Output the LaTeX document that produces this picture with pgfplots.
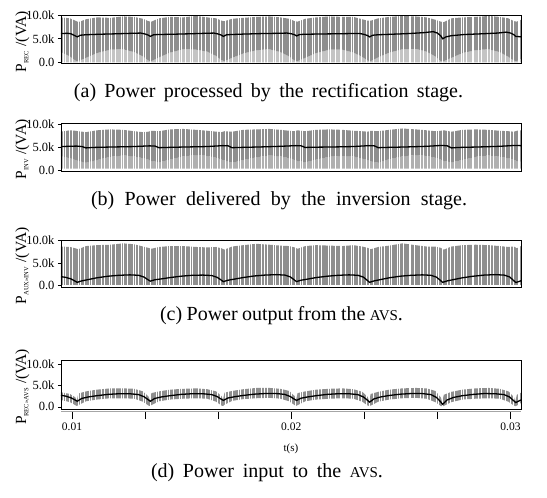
\documentclass[border=0pt]{standalone}
\usepackage{pgfplots}
\usepackage{pgfplotstable}
\pgfplotsset{compat=1.18}
\usepackage{fontspec}
\setmainfont{Liberation Serif}
\definecolor{band}{RGB}{142,142,142}
\definecolor{sparseA}{RGB}{196,196,196}
\definecolor{sparseB}{RGB}{176,176,176}
\newcommand{\sub}[1]{\textsubscript{\fontsize{6.5}{6.5}\selectfont #1}}
\newcommand{\avs}{{\fontsize{15}{15}\selectfont AVS}}
\pgfplotstableread{
x h
9.58 11000
9.67 11000
9.88 11000
10.01 11000
10.28 11000
10.39 11000
10.57 11000
10.81 11000
10.89 11000
11.05 11000
11.35 11000
11.47 11000
11.69 11000
11.78 11000
11.97 11000
12.23 11000
12.33 11000
12.50 11000
12.78 11000
12.87 11000
13.01 11000
13.24 11000
13.36 11000
13.56 11000
13.85 11000
13.93 11000
14.08 11000
14.33 11000
14.44 11000
14.63 11000
14.90 11000
15.00 11000
15.16 11000
15.38 11000
15.47 11000
15.77 11000
15.90 11000
16.08 11000
16.32 11000
16.40 11000
16.61 11000
16.75 11000
17.01 11000
17.12 11000
17.31 11000
17.59 11000
17.69 11000
17.84 11000
18.07 11000
18.16 11000
18.36 11000
18.63 11000
18.75 11000
18.92 11000
19.17 11000
19.25 11000
19.47 11000
19.60 11000
19.89 11000
19.99 11000
20.17 11000
20.41 11000
20.52 11000
20.68 11000
20.94 11000
21.03 11000
21.24 11000
21.38 11000
21.68 11000
21.80 11000
21.99 11000
22.22 11000
22.30 11000
22.47 11000
22.74 11000
22.84 11000
23.04 11000
23.19 11000
23.44 11000
23.55 11000
23.73 11000
24.01 11000
24.10 11000
24.23 11000
24.45 11000
24.57 11000
24.83 11000
24.93 11000
25.12 11000
25.36 11000
25.44 11000
25.60 11000
25.89 11000
26.00 11000
26.21 11000
26.35 11000
26.62 11000
26.71 11000
26.89 11000
27.12 11000
27.24 11000
27.44 11000
27.74 11000
27.84 11000
27.99 11000
28.24 11000
28.32 11000
28.54 11000
28.67 11000
28.95 11000
29.06 11000
29.23 11000
29.47 11000
29.56 11000
29.75 11000
30.01 11000
30.13 11000
30.34 11000
30.42 11000
}\stripes
\pgfplotsset{
 panel/.style={scale only axis, width=460pt, xmin=9.5, xmax=30.48, xtick=\empty,
  ytick={0,5000,10000}, yticklabels={0.0,5.0k,10.0k}, scaled y ticks=false, ytick pos=left, tick align=outside,
  major tick length=3pt, tick style={black, line width=0.6pt},
  axis line style={black, line width=0.8pt},
  tick label style={font=\fontsize{12.5}{13}\selectfont},
  every axis y label/.style={at={(axis description cs:-0.0837,0.45)}, rotate=90, anchor=center, font=\fontsize{15.5}{16}\selectfont},
  axis on top, anchor=north west},
 mean/.style={black, line width=1.3pt, no marks},
 poly/.style={fill=#1, draw=none, no marks, forget plot},
 stripe/.style={ycomb, white, line width=0.45pt, no marks, forget plot}}
\begin{document}
\begin{tikzpicture}
\path[use as bounding box] (0pt,0pt) rectangle (547pt,-498pt);
% ---------------- (a)
\begin{axis}[panel, at={(61pt,-15pt)}, height=48.5pt, ymin=-200, ymax=10000, ylabel={P\sub{REC} /(VA)}]
\addplot[poly=sparseA] coordinates {(9.5,2200)(9.907,1300)(10.157,400)
(10.29,300)(10.64,1000)(11.14,2000)(11.74,2700)(12.34,2800)(12.84,2200)(13.24,1300)(13.49,400)
(13.623,300)(13.973,1100)(14.473,2100)(15.073,2800)(15.673,2700)(16.173,2300)(16.573,1400)(16.823,500)
(16.957,300)(17.307,1000)(17.807,1900)(18.407,2600)(19.007,2800)(19.507,2200)(19.907,1300)(20.157,400)
(20.29,300)(20.64,1000)(21.14,2000)(21.74,2700)(22.34,2700)(22.84,2100)(23.24,1200)(23.49,400)
(23.623,300)(23.973,1100)(24.473,2100)(25.073,2800)(25.673,2900)(26.173,2300)(26.573,1300)(26.823,300)
(26.957,300)(27.307,1000)(27.807,2000)(28.407,2600)(29.007,2800)(29.507,2200)(29.907,1200)(30.157,400)
(30.29,300)(30.48,800)(30.48,50)(9.5,50)} -- cycle;
\addplot[poly=band] coordinates {(9.5,9500)(9.907,9300)(10.157,8800)
(10.29,8500)(10.64,9100)(11.14,9500)(11.74,9400)(12.34,9700)(12.84,9600)(13.24,9200)(13.49,8700)
(13.623,8600)(13.973,9300)(14.473,9600)(15.073,9500)(15.673,9800)(16.173,9500)(16.573,9300)(16.823,8800)
(16.957,8700)(17.307,9200)(17.807,9400)(18.407,9600)(19.007,9700)(19.507,9500)(19.907,9200)(20.157,8700)
(20.29,8600)(20.64,9200)(21.14,9500)(21.74,9700)(22.34,9600)(22.84,9600)(23.24,9100)(23.49,8800)
(23.623,8800)(23.973,9300)(24.473,9600)(25.073,9800)(25.673,9700)(26.173,9500)(26.573,9000)(26.823,8600)
(26.957,8500)(27.307,9300)(27.807,9500)(28.407,9600)(29.007,9800)(29.507,9600)(29.907,9300)(30.157,8700)
(30.29,8600)(30.48,9000)
(30.48,800)(30.29,300)
(30.157,400)(29.907,1200)(29.507,2200)(29.007,2800)(28.407,2600)(27.807,2000)(27.307,1000)(26.957,300)
(26.823,300)(26.573,1300)(26.173,2300)(25.673,2900)(25.073,2800)(24.473,2100)(23.973,1100)(23.623,300)
(23.49,400)(23.24,1200)(22.84,2100)(22.34,2700)(21.74,2700)(21.14,2000)(20.64,1000)(20.29,300)
(20.157,400)(19.907,1300)(19.507,2200)(19.007,2800)(18.407,2600)(17.807,1900)(17.307,1000)(16.957,300)
(16.823,500)(16.573,1400)(16.173,2300)(15.673,2700)(15.073,2800)(14.473,2100)(13.973,1100)(13.623,300)
(13.49,400)(13.24,1300)(12.84,2200)(12.34,2800)(11.74,2700)(11.14,2000)(10.64,1000)(10.29,300)
(10.157,400)(9.907,1300)(9.5,2200)} -- cycle;
\addplot[stripe] table[x=x, y=h] {\stripes};
\addplot[mean] coordinates {(9.5,6100)(9.8,6150)(9.95,6050)(10.09,5750)(10.24,5400)
(10.39,5750)(10.64,5850)(11.24,5950)(12.04,6050)(12.74,6150)(13.14,6200)(13.34,6000)(13.49,5750)(13.573,5500)
(13.723,5850)(13.973,5900)(14.573,5950)(15.373,6050)(16.073,6150)(16.473,6200)(16.673,6000)(16.823,5750)(16.907,5500)
(17.057,5850)(17.307,5900)(17.907,6000)(18.707,6100)(19.407,6150)(19.807,6200)(20.007,6050)(20.157,5850)(20.24,5600)
(20.39,5900)(20.64,5950)(21.24,6000)(22.04,6050)(22.74,6100)(23.14,6100)(23.34,5900)(23.49,5650)(23.573,5400)
(23.723,5750)(23.973,5850)(24.573,5950)(25.373,6100)(26.073,6300)(26.473,6500)(26.673,6200)(26.823,5600)(26.907,5000)
(27.057,5400)(27.307,5650)(27.907,5900)(28.707,6050)(29.407,6200)(29.807,6400)(30.007,6200)(30.157,5850)(30.24,5500)
(30.39,5450)(30.48,5400)};
\end{axis}
% ---------------- (b)
\begin{axis}[panel, at={(61pt,-123pt)}, height=48pt, ymin=-200, ymax=10300, ylabel={P\sub{INV} /(VA)}]
\addplot[poly=sparseB] coordinates {(9.5,3000)(9.907,2600)(10.157,2200)
(10.29,2000)(10.64,1600)(11.14,2200)(11.74,2900)(12.34,3200)(12.84,3000)(13.24,2600)(13.49,2300)
(13.623,2000)(13.973,1700)(14.473,2300)(15.073,3000)(15.673,3300)(16.173,3100)(16.573,2700)(16.823,2300)
(16.957,2100)(17.307,1600)(17.807,2200)(18.407,2800)(19.007,3200)(19.507,3000)(19.907,2600)(20.157,2200)
(20.29,2000)(20.64,1700)(21.14,2300)(21.74,2900)(22.34,3100)(22.84,3000)(23.24,2500)(23.49,2200)
(23.623,1900)(23.973,1600)(24.473,2400)(25.073,3000)(25.673,3300)(26.173,3100)(26.573,2700)(26.823,2300)
(26.957,2000)(27.307,1700)(27.807,2200)(28.407,2900)(29.007,3200)(29.507,2900)(29.907,2600)(30.157,2200)
(30.29,2000)(30.48,1800)(30.48,300)(9.5,300)} -- cycle;
\addplot[poly=band] coordinates {(9.5,8400)(9.907,8700)(10.157,8600)
(10.29,8500)(10.64,8300)(11.14,8700)(11.74,8900)(12.34,8800)(12.84,8500)(13.24,8300)(13.49,8400)
(13.623,8600)(13.973,8500)(14.473,8900)(15.073,9000)(15.673,8800)(16.173,8600)(16.573,8400)(16.823,8300)
(16.957,8500)(17.307,8400)(17.807,8800)(18.407,8900)(19.007,9000)(19.507,8800)(19.907,8600)(20.157,8500)
(20.29,8700)(20.64,8500)(21.14,8800)(21.74,8900)(22.34,8800)(22.84,8600)(23.24,8500)(23.49,8400)
(23.623,8600)(23.973,8500)(24.473,8800)(25.073,9100)(25.673,8900)(26.173,8700)(26.573,8500)(26.823,8600)
(26.957,8700)(27.307,8400)(27.807,8800)(28.407,8900)(29.007,8800)(29.507,8600)(29.907,8500)(30.157,8400)
(30.29,8600)(30.48,8700)
(30.48,1800)(30.29,2000)
(30.157,2200)(29.907,2600)(29.507,2900)(29.007,3200)(28.407,2900)(27.807,2200)(27.307,1700)(26.957,2000)
(26.823,2300)(26.573,2700)(26.173,3100)(25.673,3300)(25.073,3000)(24.473,2400)(23.973,1600)(23.623,1900)
(23.49,2200)(23.24,2500)(22.84,3000)(22.34,3100)(21.74,2900)(21.14,2300)(20.64,1700)(20.29,2000)
(20.157,2200)(19.907,2600)(19.507,3000)(19.007,3200)(18.407,2800)(17.807,2200)(17.307,1600)(16.957,2100)
(16.823,2300)(16.573,2700)(16.173,3100)(15.673,3300)(15.073,3000)(14.473,2300)(13.973,1700)(13.623,2000)
(13.49,2300)(13.24,2600)(12.84,3000)(12.34,3200)(11.74,2900)(11.14,2200)(10.64,1600)(10.29,2000)
(10.157,2200)(9.907,2600)(9.5,3000)} -- cycle;
\addplot[stripe] table[x=x, y=h] {\stripes};
\addplot[mean] coordinates {(9.5,5150)(10.207,5250)(10.457,5150)(10.64,4850)
(10.94,4950)(11.84,5050)(12.84,5150)(13.54,5300)(13.79,5250)(13.973,4900)
(14.273,4950)(15.173,5050)(16.173,5150)(16.873,5350)(17.123,5300)(17.307,4900)
(17.607,4950)(18.507,5050)(19.507,5200)(20.207,5350)(20.457,5300)(20.64,4950)
(20.94,5000)(21.84,5050)(22.84,5150)(23.54,5350)(23.79,5300)(23.973,4900)
(24.273,4950)(25.173,5050)(26.173,5200)(26.873,5400)(27.123,5300)(27.307,4850)
(27.607,4950)(28.507,5050)(29.507,5200)(30.207,5400)(30.457,5350)(30.48,5300)};
\end{axis}
% ---------------- (c)
\begin{axis}[panel, at={(61pt,-240pt)}, height=47pt, ymin=-300, ymax=10150, ylabel={P\sub{AUX>>INV} /(VA)}]
\addplot[poly=band] coordinates {(9.5,8700)(9.907,8600)(10.157,8300)
(10.29,8100)(10.64,8800)(11.14,9000)(11.74,9100)(12.34,9400)(12.84,9200)(13.24,8700)(13.49,8400)
(13.623,8200)(13.973,8600)(14.473,8800)(15.073,8800)(15.673,8600)(16.173,8500)(16.573,8600)(16.823,8300)
(16.957,8000)(17.307,8700)(17.807,9000)(18.407,9300)(19.007,9100)(19.507,8900)(19.907,8800)(20.157,8500)
(20.29,8200)(20.64,8800)(21.14,9000)(21.74,8900)(22.34,8800)(22.84,9000)(23.24,8700)(23.49,8400)
(23.623,8100)(23.973,8600)(24.473,8900)(25.073,9400)(25.673,9000)(26.173,8700)(26.573,8700)(26.823,8400)
(26.957,8000)(27.307,8700)(27.807,9000)(28.407,9100)(29.007,9000)(29.507,8800)(29.907,8600)(30.157,8700)
(30.29,8300)(30.48,8800)(30.48,150)(9.5,150)} -- cycle;
\addplot[stripe] table[x=x, y=h] {\stripes};
\addplot[mean] coordinates {(9.5,2000)(9.707,1850)(9.957,1500)(10.107,1100)(10.24,740)
(10.44,1050)(10.74,1350)(11.14,1750)(11.64,2100)(12.14,2300)(12.64,2400)(13.04,2300)(13.29,1900)(13.44,1400)(13.573,1000)
(13.773,1300)(14.073,1500)(14.473,1800)(14.973,2100)(15.473,2300)(15.973,2350)(16.373,2250)(16.623,1850)(16.773,1350)(16.907,900)
(17.107,1200)(17.407,1450)(17.807,1800)(18.307,2150)(18.807,2350)(19.307,2450)(19.707,2350)(19.957,1950)(20.107,1400)(20.24,900)
(20.44,1200)(20.74,1450)(21.14,1800)(21.64,2100)(22.14,2300)(22.64,2400)(23.04,2300)(23.29,1900)(23.44,1300)(23.573,740)
(23.773,1050)(24.073,1350)(24.473,1750)(24.973,2100)(25.473,2300)(25.973,2400)(26.373,2300)(26.623,1900)(26.773,1300)(26.907,740)
(27.107,1050)(27.407,1350)(27.807,1750)(28.307,2100)(28.807,2350)(29.307,2450)(29.707,2350)(29.957,1950)(30.107,1300)(30.24,700)
(30.44,1000)(30.48,1100)};
\end{axis}
% ---------------- (d)
\begin{axis}[panel, at={(61pt,-360pt)}, height=49pt, ymin=-500, ymax=10900, ylabel={P\sub{REC>>AVS} /(VA)}]
\addplot[poly=band] coordinates {(9.5,3400)(9.907,3000)(10.157,2200)(10.22,1400)
(10.29,3100)(10.64,3600)(11.14,4000)(11.74,4300)(12.34,4300)(12.84,4200)(13.24,3600)(13.49,2400)(13.553,1500)
(13.623,3200)(13.973,3600)(14.473,4000)(15.073,4200)(15.673,4300)(16.173,4100)(16.573,3600)(16.823,2500)(16.887,1600)
(16.957,3300)(17.307,3700)(17.807,4100)(18.407,4400)(19.007,4400)(19.507,4200)(19.907,3700)(20.157,2500)(20.22,1600)
(20.29,3200)(20.64,3600)(21.14,4000)(21.74,4200)(22.34,4300)(22.84,4100)(23.24,3500)(23.49,2300)(23.553,1300)
(23.623,3000)(23.973,3500)(24.473,4000)(25.073,4300)(25.673,4400)(26.173,4300)(26.573,3700)(26.823,2200)(26.887,1000)
(26.957,2800)(27.307,3500)(27.807,4000)(28.407,4300)(29.007,4400)(29.507,4200)(29.907,3600)(30.157,2300)(30.22,1200)
(30.29,2800)(30.48,3300)
(30.48,900)(30.29,300)
(30.22,150)(30.157,300)(29.907,1200)(29.507,1900)(29.007,2000)(28.407,1900)(27.807,1700)(27.307,1100)(26.957,200)
(26.887,150)(26.823,200)(26.573,1100)(26.173,1900)(25.673,2100)(25.073,2000)(24.473,1700)(23.973,1200)(23.623,300)
(23.553,200)(23.49,300)(23.24,1200)(22.84,1900)(22.34,2000)(21.74,1900)(21.14,1700)(20.64,1300)(20.29,400)
(20.22,200)(20.157,400)(19.907,1300)(19.507,1900)(19.007,2100)(18.407,2000)(17.807,1800)(17.307,1400)(16.957,500)
(16.887,200)(16.823,300)(16.573,1200)(16.173,1900)(15.673,2000)(15.073,1900)(14.473,1700)(13.973,1300)(13.623,400)
(13.553,200)(13.49,300)(13.24,1200)(12.84,1900)(12.34,2000)(11.74,2000)(11.14,1700)(10.64,1300)(10.29,400)
(10.22,200)(10.157,400)(9.907,1100)(9.5,1600)} -- cycle;
\addplot[stripe] table[x=x, y=h] {\stripes};
\addplot[mean] coordinates {(9.5,2700)(9.707,2500)(9.957,2100)(10.107,1700)(10.24,1300)
(10.44,1950)(10.74,2300)(11.14,2600)(11.64,2900)(12.14,3050)(12.64,3050)(13.04,2850)(13.29,2350)(13.44,1800)(13.573,1300)
(13.773,1950)(14.073,2300)(14.473,2600)(14.973,2900)(15.473,3050)(15.973,3050)(16.373,2850)(16.623,2400)(16.773,1900)(16.907,1500)
(17.107,2050)(17.407,2350)(17.807,2650)(18.307,2950)(18.807,3100)(19.307,3100)(19.707,2900)(19.957,2400)(20.107,1900)(20.24,1500)
(20.44,2000)(20.74,2300)(21.14,2600)(21.64,2900)(22.14,3050)(22.64,3050)(23.04,2850)(23.29,2300)(23.44,1700)(23.573,1100)
(23.773,1850)(24.073,2300)(24.473,2650)(24.973,2950)(25.473,3100)(25.973,3100)(26.373,2850)(26.623,2200)(26.773,1400)(26.907,600)
(27.107,1600)(27.407,2200)(27.807,2600)(28.307,2900)(28.807,3100)(29.307,3050)(29.707,2850)(29.957,2300)(30.107,1600)(30.24,1000)
(30.44,1500)(30.48,1600)};
\end{axis}
% x axis of (d), drawn below the frame
\begin{axis}[scale only axis, width=460pt, height=10pt, at={(61pt,-411pt)}, anchor=south west,
  xmin=9.5, xmax=30.48, ymin=0, ymax=1, axis x line*=bottom, axis y line=none,
  x axis line style={-, gray!70, line width=0.8pt},
  xtick={10,13.3333,16.6667,20,23.3333,26.6667,30}, xticklabels={0.01,,,0.02,,,0.03},
  tick align=outside, major tick length=8pt, xtick style={black, line width=0.8pt},
  tick label style={font=\fontsize{11.5}{12}\selectfont},
  xlabel={t(s)}, xlabel style={font=\fontsize{11}{12}\selectfont, yshift=-7pt}]
\end{axis}
\node[anchor=base, font=\fontsize{20}{22}\selectfont] at (268.5pt,-97pt) {\makebox[389pt][s]{(a) Power processed by the rectification stage.}};
\node[anchor=base, font=\fontsize{20}{22}\selectfont] at (279pt,-205pt) {\makebox[376pt][s]{(b) Power delivered by the inversion stage.}};
\node[anchor=base, font=\fontsize{20}{22}\selectfont] at (281.5pt,-320pt) {\makebox[243pt][s]{(c) Power output from the \avs.}};
\node[anchor=base, font=\fontsize{20}{22}\selectfont] at (267pt,-477pt) {\makebox[232pt][s]{(d) Power input to the \avs.}};
\end{tikzpicture}
\end{document}
